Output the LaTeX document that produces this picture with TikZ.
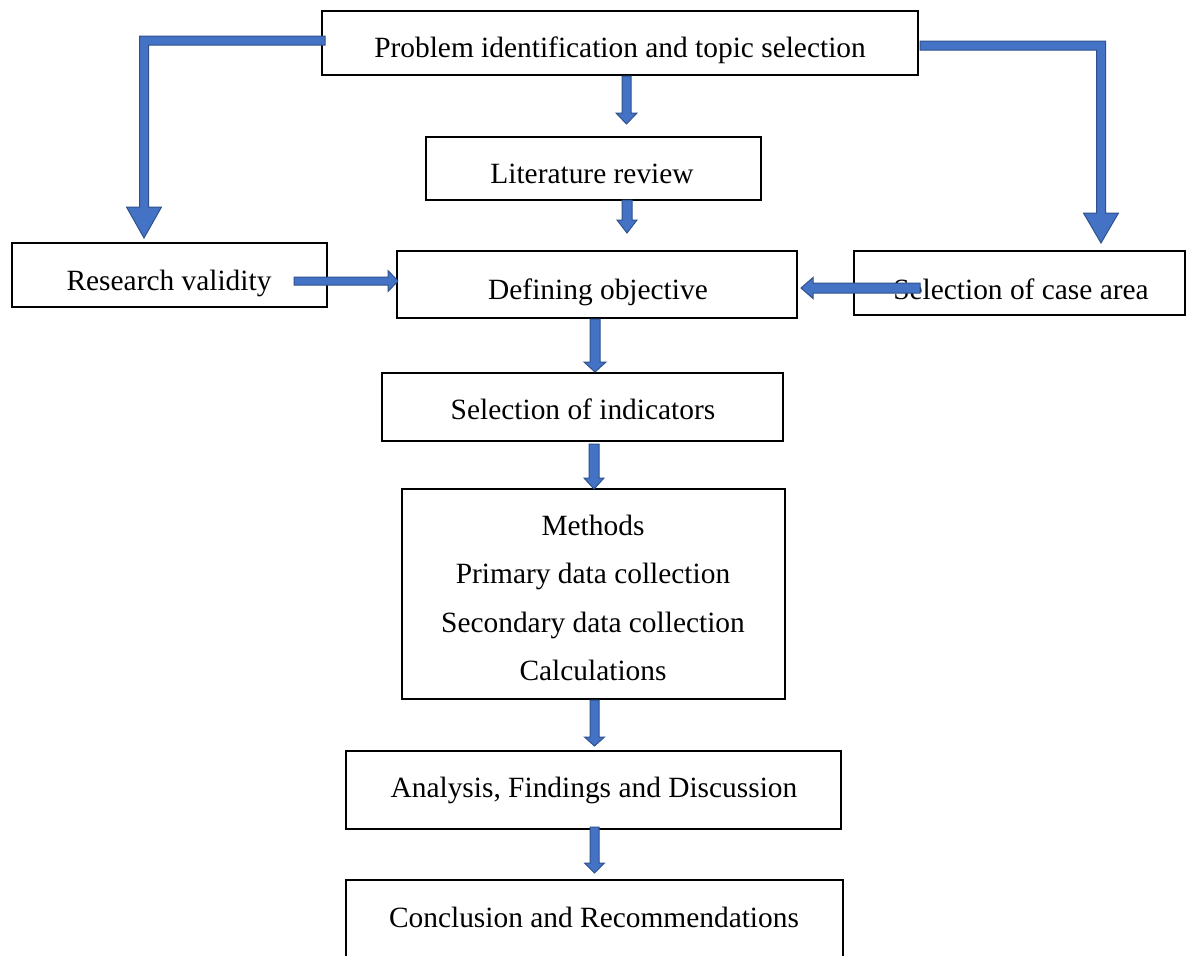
\documentclass[tikz,border=0pt]{standalone}
\usepackage{fontspec}
\setmainfont{Liberation Serif}
\usetikzlibrary{calc}
\definecolor{arrowfill}{HTML}{4472C4}
\definecolor{arrowline}{HTML}{2F528F}
\tikzset{
  box/.style={draw=black, line width=2pt, rectangle, inner sep=0pt},
  txt/.style={anchor=base, inner sep=0pt, font=\fontsize{29.4}{48}\selectfont},
  barrow/.style={fill=arrowfill, draw=arrowline, line width=1pt, line join=miter},
}
% down block arrow: #1 start, #2 tip, #3 shaft half width, #4 head half width, #5 head length
\newcommand\blkdown[5]{\filldraw[barrow] let \p1=(#1), \p2=(#2) in
  (\x1-#3pt,\y1) -- (\x1-#3pt,\y2+#5pt) -- (\x1-#4pt,\y2+#5pt) -- (\x1,\y2)
  -- (\x1+#4pt,\y2+#5pt) -- (\x1+#3pt,\y2+#5pt) -- (\x1+#3pt,\y1) -- cycle;}
\newcommand\blkright[5]{\filldraw[barrow] let \p1=(#1), \p2=(#2) in
  (\x1,\y1+#3pt) -- (\x2-#5pt,\y1+#3pt) -- (\x2-#5pt,\y1+#4pt) -- (\x2,\y1)
  -- (\x2-#5pt,\y1-#4pt) -- (\x2-#5pt,\y1-#3pt) -- (\x1,\y1-#3pt) -- cycle;}
\newcommand\blkleft[5]{\filldraw[barrow] let \p1=(#1), \p2=(#2) in
  (\x1,\y1+#3pt) -- (\x2+#5pt,\y1+#3pt) -- (\x2+#5pt,\y1+#4pt) -- (\x2,\y1)
  -- (\x2+#5pt,\y1-#4pt) -- (\x2+#5pt,\y1-#3pt) -- (\x1,\y1-#3pt) -- cycle;}
\begin{document}
\begin{tikzpicture}[x=1pt,y=-1pt]
\useasboundingbox (0,0) rectangle (1187,956);
\fill[white] (0,0) rectangle (1187,956);

% boxes
\node[box, minimum width=596pt, minimum height=64pt] (top) at (620,43) {};
\node[box, minimum width=335pt, minimum height=63pt] (lit) at (593.5,168.5) {};
\node[box, minimum width=315pt, minimum height=64pt] (rv) at (169.5,275) {};
\node[box, minimum width=400pt, minimum height=67pt] (def) at (597,284.5) {};
\node[box, minimum width=331pt, minimum height=64pt] (case) at (1019.5,283) {};
\node[box, minimum width=401pt, minimum height=68pt] (ind) at (582.5,407) {};
\node[box, minimum width=383pt, minimum height=210pt] (meth) at (593.5,594) {};
\node[box, minimum width=495pt, minimum height=78pt] (ana) at (593.5,790) {};
\node[box, minimum width=497pt, minimum height=120pt] (con) at (594.5,940) {};

% texts
\node[txt] (toptxt) at (620,57) {Problem identification and topic selection};
\node[txt] (littxt) at (592,183) {Literature review};
\node[txt] (rvtxt) at (169,290) {Research validity};
\node[txt] (deftxt) at (598,299) {Defining objective};
\node[txt] (casetxt) at (1021,299) {Selection of case area};
\node[txt] (indtxt) at (583,419) {Selection of indicators};
\node[txt] (m1) at (593,535) {Methods};
\node[txt] (m2) at (593,583) {Primary data collection};
\node[txt] (m3) at (593,632) {Secondary data collection};
\node[txt] (m4) at (593,680) {Calculations};
\node[txt] (anatxt) at (594,797) {Analysis, Findings and Discussion};
\node[txt] (contxt) at (594,927) {Conclusion and Recommendations};

% arrow anchor coordinates
\coordinate (a1s) at (626.5,76);  \coordinate (a1t) at (626.5,124);
\coordinate (a2s) at (627,200);   \coordinate (a2t) at (627,233);
\coordinate (a3s) at (595,319);   \coordinate (a3t) at (595,372);
\coordinate (a4s) at (594,444);   \coordinate (a4t) at (594,489);
\coordinate (a5s) at (594.5,700); \coordinate (a5t) at (594.5,746);
\coordinate (a6s) at (594.5,827); \coordinate (a6t) at (594.5,873);
\coordinate (rvs) at (294,281);   \coordinate (rvt) at (398,281);
\coordinate (cas) at (920,288);   \coordinate (cat) at (801,288);

% straight block arrows
\blkdown{a1s}{a1t}{4.5}{10.5}{11}
\blkdown{a2s}{a2t}{5}{10}{13}
\blkdown{a3s}{a3t}{5}{11}{10}
\blkdown{a4s}{a4t}{5}{10}{11}
\blkdown{a5s}{a5t}{4.5}{10}{9}
\blkdown{a6s}{a6t}{4.5}{10}{10}
\blkright{rvs}{rvt}{4}{10.5}{10}
\blkleft{cas}{cat}{5}{10.5}{12}

% bent block arrows
\coordinate (ls) at (325,40.5); \coordinate (lc) at (144,40.5); \coordinate (lt) at (144,238);
\filldraw[barrow] let \p1=(ls), \p2=(lc), \p3=(lt) in
  (\x1,\y1+4.5pt) -- (\x2-4.5pt,\y1+4.5pt) -- (\x2-4.5pt,\y3+31pt) -- (\x2-17.5pt,\y3+31pt)
  -- (\x2,\y3) -- (\x2+17.5pt,\y3+31pt) -- (\x2+4.5pt,\y3+31pt) -- (\x2+4.5pt,\y1-4.5pt)
  -- (\x1,\y1-4.5pt) -- cycle;
\coordinate (rs) at (920,45.5); \coordinate (rc) at (1101,45.5); \coordinate (rt) at (1101,243);
\filldraw[barrow] let \p1=(rs), \p2=(rc), \p3=(rt) in
  (\x1,\y1+4.5pt) -- (\x2+4.5pt,\y1+4.5pt) -- (\x2+4.5pt,\y3+30pt) -- (\x2+17.5pt,\y3+30pt)
  -- (\x2,\y3) -- (\x2-17.5pt,\y3+30pt) -- (\x2-4.5pt,\y3+30pt) -- (\x2-4.5pt,\y1-4.5pt)
  -- (\x1,\y1-4.5pt) -- cycle;
\end{tikzpicture}
\end{document}
